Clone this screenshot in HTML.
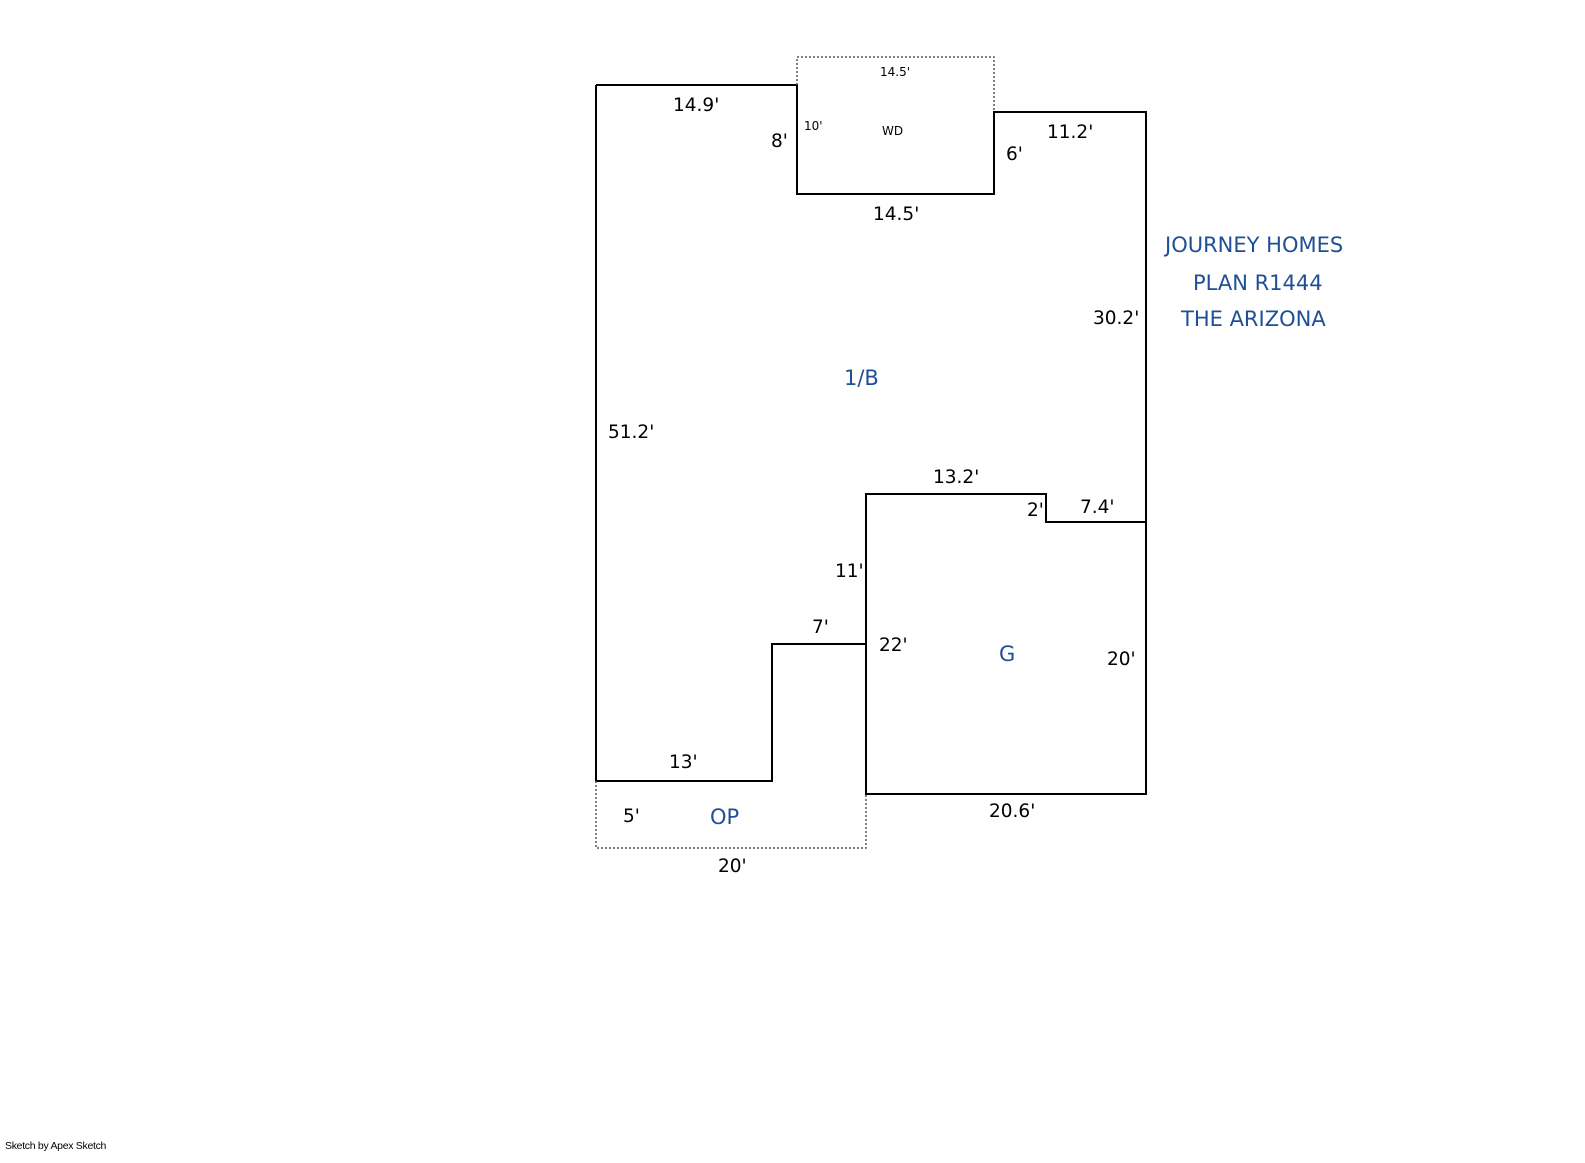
<!DOCTYPE html>
<html><head><style>
html,body{margin:0;padding:0;background:#fff;}
svg{display:block;}
text{font-family:"DejaVu Sans","Liberation Sans",sans-serif;}
.d{font-size:18.5px;fill:#000;}
.s{font-size:12px;fill:#000;}
.b{font-size:21px;fill:#1f4f96;}
</style></head><body>
<svg width="1585" height="1163" viewBox="0 0 1585 1163" xmlns="http://www.w3.org/2000/svg">
<g fill="none" stroke="#000" stroke-width="2">
<polyline points="596,85 797,85 797,194 994,194 994,112 1146,112 1146,794 866,794 866,494 1046,494 1046,522 1146,522"/>
<polyline points="596,85 596,781 772,781 772,644 866,644"/>
</g>
<g fill="none" stroke="#555" stroke-width="1.5" stroke-dasharray="2,2">
<polyline points="797,85 797,57 994,57 994,112"/>
<polyline points="596,781 596,848 866,848 866,794"/>
</g>
<text class="d" x="673" y="111">14.9'</text>
<text class="d" x="771" y="147">8'</text>
<text class="s" x="880" y="76">14.5'</text>
<text class="s" x="804" y="130">10'</text>
<text class="s" x="882" y="135">WD</text>
<text class="d" x="873" y="220">14.5'</text>
<text class="d" x="1006" y="160">6'</text>
<text class="d" x="1047" y="138">11.2'</text>
<text class="b" x="1165" y="252">JOURNEY HOMES</text>
<text class="b" x="1193" y="290">PLAN R1444</text>
<text class="b" x="1181" y="326">THE ARIZONA</text>
<text class="d" x="1093" y="324">30.2'</text>
<text class="b" x="844" y="385">1/B</text>
<text class="d" x="608" y="438">51.2'</text>
<text class="d" x="933" y="483">13.2'</text>
<text class="d" x="1027" y="516">2'</text>
<text class="d" x="1080" y="513">7.4'</text>
<text class="d" x="835" y="577">11'</text>
<text class="d" x="812" y="633">7'</text>
<text class="d" x="879" y="651">22'</text>
<text class="b" x="999" y="661">G</text>
<text class="d" x="1107" y="665">20'</text>
<text class="d" x="669" y="768">13'</text>
<text class="d" x="989" y="817">20.6'</text>
<text class="d" x="623" y="822">5'</text>
<text class="b" x="710" y="824">OP</text>
<text class="d" x="718" y="872">20'</text>
<text x="5" y="1149" style="font-size:10.5px;fill:#000;font-family:'Liberation Sans',sans-serif;letter-spacing:-0.3px">Sketch by Apex Sketch</text>
</svg>
</body></html>
